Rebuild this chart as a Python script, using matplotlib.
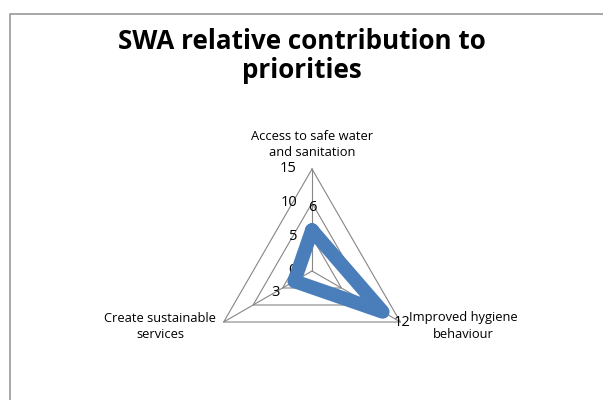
import numpy as np
import matplotlib
matplotlib.use('Agg')
import matplotlib.pyplot as plt
from matplotlib.lines import Line2D

# data
categories = ['Access to safe water\nand sanitation',
              'Improved hygiene\nbehaviour',
              'Create sustainable\nservices']
values = [6, 12, 3]
grid_levels = [0, 5, 10, 15]
title = 'SWA relative contribution to\npriorities'

plt.rcParams['font.family'] = ['Open Sans', 'DejaVu Sans']

# pixel frame: centre of the radar and pixels per unit
W, H = 603, 400
cx, cy = 312, 271
ppu = 102 / 15.0

fig = plt.figure(figsize=(W / 100, H / 100), dpi=100)
ax = fig.add_axes([0, 0, 1, 1])
ax.set_xlim(-cx / ppu, (W - cx) / ppu)
ax.set_ylim(-(H - cy) / ppu, cy / ppu)
ax.axis('off')

# chart border (only left and top edges are inside the picture)
bx, by = 9.5 / W, 1 - 13.5 / H
fig.lines.append(Line2D([bx, bx, 1.01], [-0.01, by, by], transform=fig.transFigure,
                        color='#a0a0a0', lw=1.3))

n = len(categories)
angles = np.pi / 2 - np.arange(n) * 2 * np.pi / n


def to_xy(r, a):
    return r * np.cos(a), r * np.sin(a)


# polygon grid + spokes
grid_col = '#868686'
for lv in grid_levels[1:]:
    gx, gy = to_xy(lv, np.append(angles, angles[0]))
    ax.plot(gx, gy, color=grid_col, lw=0.8, zorder=1)
for a in angles:
    sx, sy = to_xy(np.array([0, grid_levels[-1]]), a)
    ax.plot(sx, sy, color=grid_col, lw=0.8, zorder=1)

# radial tick labels
for lv in grid_levels:
    ax.text(-2.2, lv, str(lv), ha='right', va='center', fontsize=10.5, color='black')

# series
vals = np.array(values, dtype=float)
px, py = to_xy(np.append(vals, vals[0]), np.append(angles, angles[0]))
ax.plot(px, py, color='#4a7ebb', lw=10, solid_joinstyle='round',
        solid_capstyle='round', zorder=3)

# data labels
for v, a in zip(values, angles):
    x, y = to_xy(v, a)
    ax.annotate(str(v), (x, y), xytext=(16 * np.cos(a), 16 * np.sin(a)),
                textcoords='offset points', ha='center', va='center',
                fontsize=10.5, zorder=4)

# category labels
lab_kw = dict(ha='center', va='center', fontsize=9.3, linespacing=1.3)
ax.text(0, (cy - 144) / ppu, categories[0], **lab_kw)
ax.text((463 - cx) / ppu, (cy - 326) / ppu, categories[1], **lab_kw)
ax.text((160 - cx) / ppu, (cy - 326) / ppu, categories[2], **lab_kw)

fig.text(0.5, 1 - 56 / H, title, ha='center', va='center', fontsize=18.7,
         fontweight='bold', linespacing=1.1)

fig.savefig('out.png', dpi=100)
